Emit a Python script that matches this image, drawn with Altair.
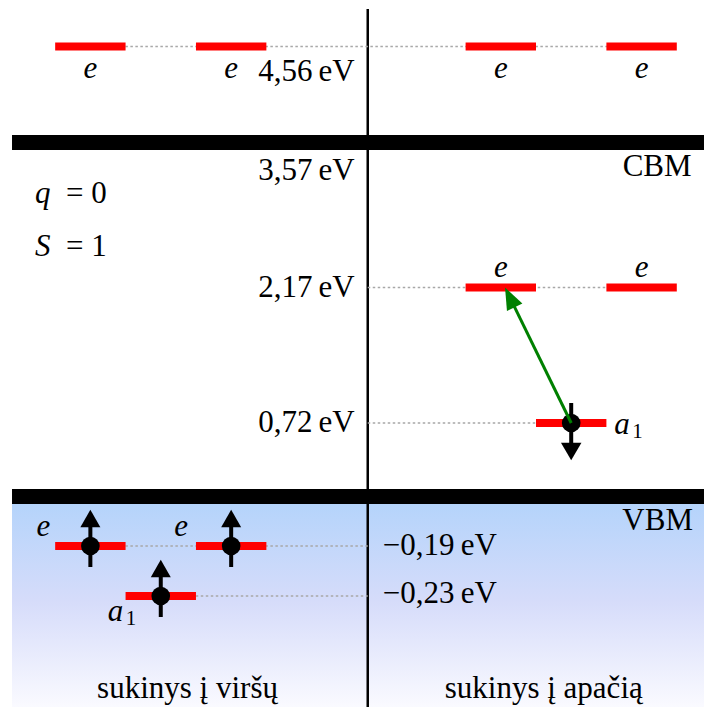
import math
import altair as alt
import numpy as np
import pandas as pd

# ---------------- data (energies in eV) ----------------
level_energy = [4.56, 4.56, 4.56, 4.56, 2.17, 2.17, 0.72, -0.19, -0.19, -0.23]
level_slot   = [1.17, 3.17, 7.00, 9.00, 7.00, 9.00, 8.00, 1.17, 3.17, 2.17]

band_energy = [3.57, 0.0]          # CBM, VBM
band_name = ["CBM", "VBM"]

energy_labels = ["4,56\u2009eV", "3,57\u2009eV", "2,17\u2009eV", "0,72\u2009eV",
                 "\u22120,19\u2009eV", "\u22120,23\u2009eV"]
energy_values = [4.56, 3.57, 2.17, 0.72, -0.19, -0.23]

# occupied states: energy, slot, spin
elec_energy = [-0.19, -0.19, -0.23, 0.72]
elec_slot = [1.17, 3.17, 2.17, 8.00]
elec_spin = ["up", "up", "up", "down"]

# excitation: from a1 (0.72, spin down) to e (2.17)
exc_from = (8.00, 0.72)
exc_to = (7.06, 2.17)

column_titles = ["sukinys \u012f vir\u0161\u0173", "sukinys \u012f apa\u010di\u0105"]
column_pos = [2.55, 7.61]
CENTER = 5.11

# ---------------- scales ----------------
W, H = 696, 699
PX_PER_U = 70.4
X_DOM = [0, W / PX_PER_U]
Y_DOM = [-0.40, -0.23, -0.19, 0.0, 0.72, 2.17, 3.57, 4.56, 4.95]
Y_RNG = [H, 588, 538, 488.5, 415, 279.5, 134.5, 38.5, 0]

xs = alt.Scale(domain=X_DOM, nice=False, zero=False)
ys = alt.Scale(domain=Y_DOM, range=Y_RNG, nice=False, zero=False)


def X(f):
    return alt.X(f, type="quantitative", scale=xs, axis=None)


def Y(f):
    return alt.Y(f, type="quantitative", scale=ys, axis=None)


FONT = "Liberation Serif"
FS = 31

layers = []

# gradient (valence band region)
grad_df = pd.DataFrame({"x": [0.057], "x2": [X_DOM[1]], "y": [0.0], "y2": [Y_DOM[0]]})
layers.append(
    alt.Chart(grad_df).mark_rect(
        fill=alt.Gradient(
            gradient="linear",
            stops=[alt.GradientStop(color="#b2d3fb", offset=0),
                   alt.GradientStop(color="#d6dcfa", offset=0.5),
                   alt.GradientStop(color="#fafaff", offset=1)],
            x1=0, x2=0, y1=0, y2=1),
        strokeWidth=0,
    ).encode(x=X("x"), x2=alt.X2("x2"), y=Y("y"), y2=alt.Y2("y2"))
)

# vertical separator
vdf = pd.DataFrame({"x": [CENTER], "y": [Y_DOM[-1]], "y2": [Y_DOM[0]]})
layers.append(
    alt.Chart(vdf).mark_rule(color="black", strokeWidth=2.5, yOffset=1, y2Offset=4)
    .encode(x=X("x"), y=Y("y"), y2=alt.Y2("y2"))
)

# CBM / VBM bands
bdf = pd.DataFrame({"y": band_energy, "x": [0.057] * 2, "x2": [X_DOM[1]] * 2})
layers.append(
    alt.Chart(bdf).mark_rule(color="black", strokeWidth=15, strokeCap="butt")
    .encode(x=X("x"), x2=alt.X2("x2"), y=Y("y"))
)

# dotted guide lines
gdf = pd.DataFrame({
    "y": [4.56, 2.17, 0.72, -0.19, -0.23],
    "x": [1.17, CENTER, CENTER, 1.17, 2.17],
    "x2": [9.0, 9.0, 8.0, CENTER, CENTER],
})
layers.append(
    alt.Chart(gdf).mark_rule(color="#a8a8a8", strokeWidth=1.4, strokeDash=[2.5, 2.5])
    .encode(x=X("x"), x2=alt.X2("x2"), y=Y("y"))
)

# red levels
ldf = pd.DataFrame({"y": level_energy, "slot": level_slot})
ldf["x"] = ldf["slot"] - 0.5
ldf["x2"] = ldf["slot"] + 0.5
layers.append(
    alt.Chart(ldf).mark_rule(color="#ff0000", strokeWidth=8, strokeCap="butt")
    .encode(x=X("x"), x2=alt.X2("x2"), y=Y("y"))
)

# electrons
edf = pd.DataFrame({"y": elec_energy, "x": elec_slot, "spin": elec_spin})
layers.append(
    alt.Chart(edf).mark_rule(color="black", strokeWidth=4, strokeCap="butt",
                             yOffset=-20, y2Offset=21)
    .encode(x=X("x"), y=Y("y"), y2=alt.Y2("y"))
)
layers.append(
    alt.Chart(edf[edf.spin == "up"]).mark_point(
        shape="triangle-up", size=400, filled=True, color="black", opacity=1,
        strokeWidth=0, yOffset=-27.5)
    .encode(x=X("x"), y=Y("y"))
)
layers.append(
    alt.Chart(edf[edf.spin == "down"]).mark_point(
        shape="triangle-down", size=420, filled=True, color="black", opacity=1,
        strokeWidth=0, yOffset=28.5)
    .encode(x=X("x"), y=Y("y"))
)
layers.append(
    alt.Chart(edf).mark_circle(size=346, color="black", opacity=1)
    .encode(x=X("x"), y=Y("y"))
)

# green excitation arrow
x0p, y0p = exc_from[0] * PX_PER_U, float(np.interp(exc_from[1], Y_DOM, Y_RNG))
x1p, y1p = exc_to[0] * PX_PER_U, float(np.interp(exc_to[1], Y_DOM, Y_RNG))
dxp, dyp = x1p - x0p, y1p - y0p
L = math.hypot(dxp, dyp)
ux, uy = dxp / L, dyp / L
HEAD = 11.0
ang = math.degrees(math.atan2(dxp, -dyp)) % 360
adf = pd.DataFrame({"x": [exc_from[0]], "y": [exc_from[1]],
                    "x2": [exc_to[0]], "y2": [exc_to[1]]})
layers.append(
    alt.Chart(adf).mark_rule(color="#008000", strokeWidth=3,
                             x2Offset=-ux * HEAD, y2Offset=-uy * HEAD)
    .encode(x=X("x"), y=Y("y"), x2=alt.X2("x2"), y2=alt.Y2("y2"))
)
layers.append(
    alt.Chart(adf).mark_point(
        shape="M0,-1L-0.78,1L0.78,1Z", size=(2 * HEAD) ** 2, filled=True,
        color="#008000", opacity=1, strokeWidth=0, angle=ang,
        xOffset=-ux * HEAD, yOffset=-uy * HEAD)
    .encode(x=alt.X("x2", type="quantitative", scale=xs, axis=None), y=Y("y2"))
)


def txt(df, align="center", dx=0, dy=0, size=FS, italic=False, **enc):
    kw = dict(align=align, baseline="middle", dx=dx, dy=dy, font=FONT,
              fontSize=size, color="black")
    if italic:
        kw["fontStyle"] = "italic"
    return alt.Chart(df).mark_text(**kw).encode(**enc)


# energy labels
el = pd.DataFrame({"y": energy_values, "t": energy_labels, "x": [CENTER] * 6})
layers.append(txt(el.iloc[[0]], align="right", dx=-13, dy=25, x=X("x"), y=Y("y"), text="t:N"))
layers.append(txt(el.iloc[[1]], align="right", dx=-13, dy=28, x=X("x"), y=Y("y"), text="t:N"))
layers.append(txt(el.iloc[[2, 3]], align="right", dx=-13, dy=0, x=X("x"), y=Y("y"), text="t:N"))
layers.append(txt(el.iloc[[4]], align="left", dx=15, dy=0, x=X("x"), y=Y("y"), text="t:N"))
layers.append(txt(el.iloc[[5]], align="left", dx=15, dy=-2, x=X("x"), y=Y("y"), text="t:N"))

# CBM / VBM labels
cb = pd.DataFrame({"y": band_energy, "t": band_name, "x": [9.71, 9.73]})
layers.append(txt(cb.iloc[[0]], align="right", dy=24, x=X("x"), y=Y("y"), text="t:N"))
layers.append(txt(cb.iloc[[1]], align="right", dy=24, x=X("x"), y=Y("y"), text="t:N"))

# symmetry labels
ldf["t"] = ["e"] * len(ldf)
top_e = ldf[(ldf.y == 4.56)]
layers.append(txt(top_e, italic=True, dy=22, x=X("slot"), y=Y("y"), text="t:N"))
mid_e = ldf[(ldf.y == 2.17)]
layers.append(txt(mid_e, italic=True, dy=-20, x=X("slot"), y=Y("y"), text="t:N"))
low_e = ldf[(ldf.y == -0.19)]
layers.append(txt(low_e.iloc[[0]], italic=True, dx=-47, dy=-19, x=X("slot"), y=Y("y"), text="t:N"))
layers.append(txt(low_e.iloc[[1]], italic=True, dx=-50, dy=-19, x=X("slot"), y=Y("y"), text="t:N"))

a_hi = pd.DataFrame({"x": [8.0], "y": [0.72], "a": ["a"], "s": ["1"]})
layers.append(txt(a_hi, align="left", italic=True, dx=43, dy=2, x=X("x"), y=Y("y"), text="a:N"))
layers.append(txt(a_hi, align="left", size=21, dx=61, dy=9, x=X("x"), y=Y("y"), text="s:N"))
a_lo = pd.DataFrame({"x": [2.17], "y": [-0.23], "a": ["a"], "s": ["1"]})
layers.append(txt(a_lo, align="left", italic=True, dx=-53, dy=16, x=X("x"), y=Y("y"), text="a:N"))
layers.append(txt(a_lo, align="left", size=21, dx=-35, dy=23, x=X("x"), y=Y("y"), text="s:N"))

# charge / spin annotations
qs = pd.DataFrame({"sym": ["q", "S"], "rest": ["= 0", "= 1"], "row": [0, 1]})
for i, dy in enumerate([186, 239]):
    r = qs.iloc[[i]]
    layers.append(txt(r, align="left", italic=True, x=alt.value(27), y=alt.value(dy), text="sym:N"))
    layers.append(txt(r, align="left", x=alt.value(58), y=alt.value(dy), text="rest:N"))

# column titles
ct = pd.DataFrame({"x": column_pos, "t": column_titles})
layers.append(txt(ct, x=X("x"), y=alt.value(681), text="t:N"))

chart = alt.layer(*layers).properties(
    width=W, height=H, padding=0, autosize=alt.AutoSizeParams(type="none")
).configure_view(strokeWidth=0)

chart.save("out.html", embed_options={"renderer": "svg", "actions": False})
